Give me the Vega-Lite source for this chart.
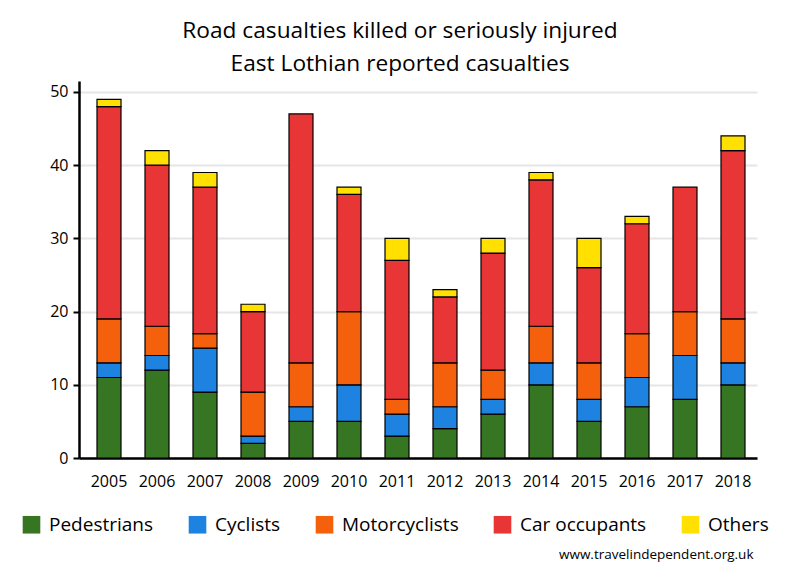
{
  "$schema": "https://vega.github.io/schema/vega-lite/v6.json",
  "autosize": {"type": "none"},
  "padding": {"left": 79, "top": 81, "right": 43, "bottom": 122},
  "width": 678,
  "height": 377,
  "background": "white",
  "config": {
    "font": "Open Sans",
    "view": {"stroke": null}
  },
  "title": {
    "text": ["Road casualties killed or seriously injured", "East Lothian reported casualties"],
    "fontSize": 22.7,
    "fontWeight": "normal",
    "color": "black",
    "lineHeight": 33,
    "anchor": "middle",
    "dx": -18,
    "offset": 5
  },
  "data": {
    "values": [
      {"year": "2005", "type": "Pedestrians", "n": 11}, {"year": "2005", "type": "Cyclists", "n": 2}, {"year": "2005", "type": "Motorcyclists", "n": 6}, {"year": "2005", "type": "Car occupants", "n": 29}, {"year": "2005", "type": "Others", "n": 1},
      {"year": "2006", "type": "Pedestrians", "n": 12}, {"year": "2006", "type": "Cyclists", "n": 2}, {"year": "2006", "type": "Motorcyclists", "n": 4}, {"year": "2006", "type": "Car occupants", "n": 22}, {"year": "2006", "type": "Others", "n": 2},
      {"year": "2007", "type": "Pedestrians", "n": 9}, {"year": "2007", "type": "Cyclists", "n": 6}, {"year": "2007", "type": "Motorcyclists", "n": 2}, {"year": "2007", "type": "Car occupants", "n": 20}, {"year": "2007", "type": "Others", "n": 2},
      {"year": "2008", "type": "Pedestrians", "n": 2}, {"year": "2008", "type": "Cyclists", "n": 1}, {"year": "2008", "type": "Motorcyclists", "n": 6}, {"year": "2008", "type": "Car occupants", "n": 11}, {"year": "2008", "type": "Others", "n": 1},
      {"year": "2009", "type": "Pedestrians", "n": 5}, {"year": "2009", "type": "Cyclists", "n": 2}, {"year": "2009", "type": "Motorcyclists", "n": 6}, {"year": "2009", "type": "Car occupants", "n": 34},
      {"year": "2010", "type": "Pedestrians", "n": 5}, {"year": "2010", "type": "Cyclists", "n": 5}, {"year": "2010", "type": "Motorcyclists", "n": 10}, {"year": "2010", "type": "Car occupants", "n": 16}, {"year": "2010", "type": "Others", "n": 1},
      {"year": "2011", "type": "Pedestrians", "n": 3}, {"year": "2011", "type": "Cyclists", "n": 3}, {"year": "2011", "type": "Motorcyclists", "n": 2}, {"year": "2011", "type": "Car occupants", "n": 19}, {"year": "2011", "type": "Others", "n": 3},
      {"year": "2012", "type": "Pedestrians", "n": 4}, {"year": "2012", "type": "Cyclists", "n": 3}, {"year": "2012", "type": "Motorcyclists", "n": 6}, {"year": "2012", "type": "Car occupants", "n": 9}, {"year": "2012", "type": "Others", "n": 1},
      {"year": "2013", "type": "Pedestrians", "n": 6}, {"year": "2013", "type": "Cyclists", "n": 2}, {"year": "2013", "type": "Motorcyclists", "n": 4}, {"year": "2013", "type": "Car occupants", "n": 16}, {"year": "2013", "type": "Others", "n": 2},
      {"year": "2014", "type": "Pedestrians", "n": 10}, {"year": "2014", "type": "Cyclists", "n": 3}, {"year": "2014", "type": "Motorcyclists", "n": 5}, {"year": "2014", "type": "Car occupants", "n": 20}, {"year": "2014", "type": "Others", "n": 1},
      {"year": "2015", "type": "Pedestrians", "n": 5}, {"year": "2015", "type": "Cyclists", "n": 3}, {"year": "2015", "type": "Motorcyclists", "n": 5}, {"year": "2015", "type": "Car occupants", "n": 13}, {"year": "2015", "type": "Others", "n": 4},
      {"year": "2016", "type": "Pedestrians", "n": 7}, {"year": "2016", "type": "Cyclists", "n": 4}, {"year": "2016", "type": "Motorcyclists", "n": 6}, {"year": "2016", "type": "Car occupants", "n": 15}, {"year": "2016", "type": "Others", "n": 1},
      {"year": "2017", "type": "Pedestrians", "n": 8}, {"year": "2017", "type": "Cyclists", "n": 6}, {"year": "2017", "type": "Motorcyclists", "n": 6}, {"year": "2017", "type": "Car occupants", "n": 17},
      {"year": "2018", "type": "Pedestrians", "n": 10}, {"year": "2018", "type": "Cyclists", "n": 3}, {"year": "2018", "type": "Motorcyclists", "n": 6}, {"year": "2018", "type": "Car occupants", "n": 23}, {"year": "2018", "type": "Others", "n": 2}
    ]
  },
  "transform": [
    {"calculate": "indexof(['Pedestrians','Cyclists','Motorcyclists','Car occupants','Others'], datum.type)", "as": "stackOrder"}
  ],
  "mark": {"type": "bar", "stroke": "black", "strokeWidth": 1.2},
  "encoding": {
    "x": {
      "field": "year",
      "type": "nominal",
      "scale": {"paddingInner": 0.5, "paddingOuter": 0.3125, "align": 0.6},
      "axis": {
        "title": "www.travelindependent.org.uk",
        "titleAnchor": "end",
        "titleFontSize": 13.5,
        "titleFontWeight": "normal",
        "titleColor": "black",
        "titlePadding": 58,
        "titleX": 674,
        "labelAngle": 0,
        "labelFontSize": 16,
        "labelColor": "black",
        "labelPadding": 15,
        "ticks": false,
        "domainColor": "black",
        "domainWidth": 2.5
      }
    },
    "y": {
      "field": "n",
      "type": "quantitative",
      "stack": "zero",
      "scale": {"domain": [0, 51.5], "nice": false},
      "axis": {
        "title": null,
        "values": [0, 10, 20, 30, 40, 50],
        "labelFontSize": 16,
        "labelColor": "black",
        "labelPadding": 5,
        "ticks": true,
        "tickSize": 6,
        "tickColor": "black",
        "tickWidth": 2,
        "domainColor": "black",
        "domainWidth": 2.5,
        "gridColor": "#e6e6e6",
        "gridWidth": 2
      }
    },
    "color": {
      "field": "type",
      "type": "nominal",
      "sort": ["Pedestrians", "Cyclists", "Motorcyclists", "Car occupants", "Others"],
      "scale": {
        "domain": ["Pedestrians", "Cyclists", "Motorcyclists", "Car occupants", "Others"],
        "range": ["#367622", "#1e83e0", "#f4600c", "#e83535", "#ffe000"]
      },
      "legend": {
        "title": null,
        "orient": "none",
        "legendX": -57,
        "legendY": 434,
        "direction": "horizontal",
        "columns": 5,
        "columnPadding": 34,
        "symbolType": "square",
        "symbolSize": 310,
        "symbolStrokeWidth": 0,
        "symbolOpacity": 1,
        "labelFontSize": 19,
        "labelColor": "black",
        "labelOffset": 8
      }
    },
    "order": {"field": "stackOrder", "type": "quantitative", "sort": "ascending"}
  }
}
